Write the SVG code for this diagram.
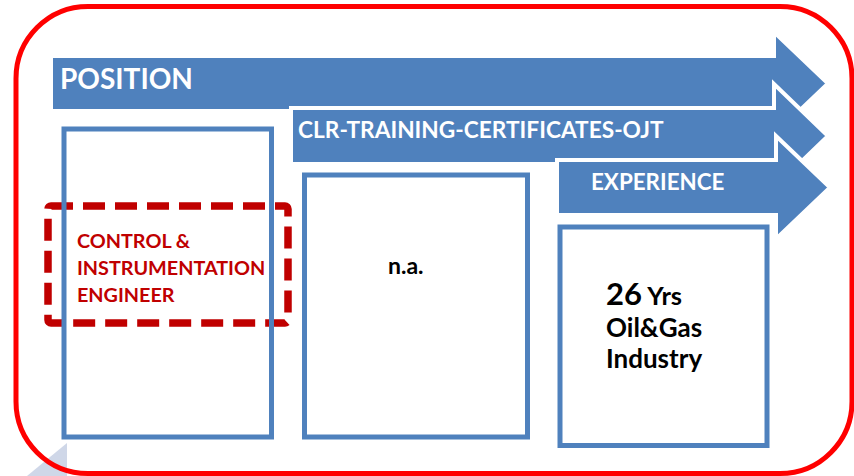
<svg xmlns="http://www.w3.org/2000/svg" width="854" height="476" viewBox="0 0 854 476">
<style>
.arrow{fill:#4f81bd;stroke:#ffffff;stroke-width:4;stroke-linejoin:miter}
.box{fill:none;stroke:#4f81bd;stroke-width:5}
.hd{font-family:Lato,"Liberation Sans",sans-serif;font-weight:bold;fill:#ffffff}
.red{font-family:Lato,"Liberation Sans",sans-serif;font-weight:bold;fill:#c00000;font-size:19.8px}
.blk{font-family:Lato,"Liberation Sans",sans-serif;font-weight:bold;fill:#000000}
</style>
<rect width="854" height="476" fill="#ffffff"/>
<polygon points="67,443 67,476 27,476" fill="#cfd7e8"/>
<rect x="16" y="6.5" width="836" height="467" rx="72" ry="72" fill="none" stroke="#ff0000" stroke-width="5"/>
<g id="arrow-position">
<polygon class="arrow" points="51,56 774,56 774,32 828,83.5 774,135 774,111 51,111"/>
<text class="hd" x="60" y="89" font-size="28">POSITION</text>
</g>
<g id="arrow-clr">
<polygon class="arrow" points="291,108 774,108 774,84 828,136 774,188 774,164 291,164"/>
<text class="hd" x="298" y="138" font-size="22.7">CLR-TRAINING-CERTIFICATES-OJT</text>
</g>
<g id="arrow-experience">
<polygon class="arrow" points="557,160 776,160 776,136 830,187.5 776,239 776,215 557,215"/>
<text class="hd" x="591" y="190" font-size="22.4">EXPERIENCE</text>
</g>
<g id="position-highlight">
<rect x="48" y="206" width="240" height="117" rx="3" fill="none" stroke="#c00000" stroke-width="7.5" stroke-dasharray="22 10" stroke-linejoin="round"/>
</g>
<g id="box-position">
<rect class="box" x="64" y="129" width="207.5" height="308"/>
<text class="red" x="77" y="248">CONTROL &amp;</text>
<text class="red" x="77" y="275">INSTRUMENTATION</text>
<text class="red" x="77" y="302">ENGINEER</text>
</g>
<g id="box-clr">
<rect class="box" x="304.5" y="175" width="223" height="262"/>
<text class="blk" x="388" y="274" font-size="23">n.a.</text>
</g>
<g id="box-experience">
<rect class="box" x="560" y="227" width="207" height="218.5"/>
<text class="blk" x="606" y="305"><tspan font-size="31">26</tspan><tspan font-size="25.5"> Yrs</tspan></text>
<text class="blk" x="606" y="337" font-size="26">Oil&amp;Gas</text>
<text class="blk" x="606" y="368" font-size="26">Industry</text>
</g>
<g id="connectors"></g>
</svg>
